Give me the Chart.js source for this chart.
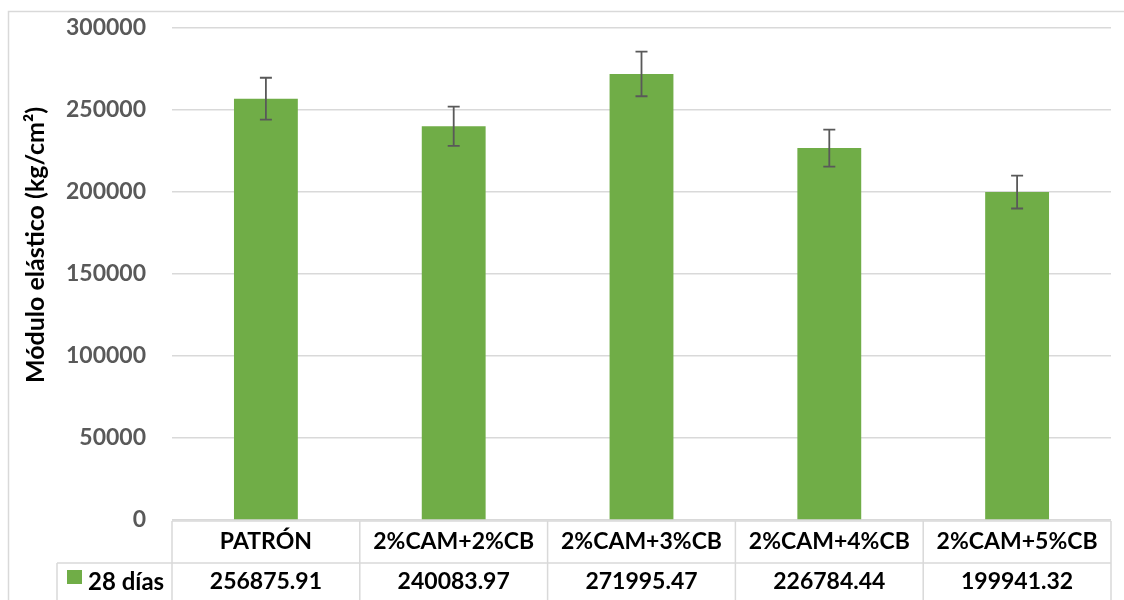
<!DOCTYPE html>
<html>
<head>
<meta charset="utf-8">
<script src="https://cdn.jsdelivr.net/npm/chart.js@4"></script>
<style>
  html, body { margin: 0; padding: 0; background: #ffffff; }
  #wrap { width: 1124px; height: 600px; }
</style>
</head>
<body>
<div id="wrap"><canvas id="chart" width="1124" height="600"></canvas></div>
<script>
// Chart data
const categories = ["PATRÓN", "2%CAM+2%CB", "2%CAM+3%CB", "2%CAM+4%CB", "2%CAM+5%CB"];
const values = [256875.91, 240083.97, 271995.47, 226784.44, 199941.32];
const errors = [12800, 12000, 13600, 11300, 10000];
const seriesName = "28 días";
const axisTitle = "Módulo elástico (kg/cm²)";
const yMin = 0;
const yMax = 300000;
const yStep = 50000;

/* ============================
   STYLE
============================ */
const FONT = "Lato";
const GREEN = "#70AD47";
const LINE = "#d9d9d9";
const ERR = "#595959";

/* ============================
   PLUGINS
============================ */

// Outer chart frame (Excel chart border)
const framePlugin = {
  id: "frame",
  beforeDraw(chart) {
    const ctx = chart.ctx;
    ctx.save();
    ctx.strokeStyle = LINE;
    ctx.lineWidth = 1.5;
    ctx.strokeRect(8.5, 11.5, 1400, 800);
    ctx.restore();
  },
};

// Error bars on top of each bar
const errorBarPlugin = {
  id: "errorBars",
  afterDatasetsDraw(chart) {
    const ctx = chart.ctx;
    const y = chart.scales.y;
    const meta = chart.getDatasetMeta(0);
    ctx.save();
    ctx.strokeStyle = ERR;
    ctx.lineWidth = 1.8;
    meta.data.forEach((bar, i) => {
      const top = y.getPixelForValue(values[i] + errors[i]);
      const bot = y.getPixelForValue(values[i] - errors[i]);
      ctx.beginPath();
      ctx.moveTo(bar.x, top);
      ctx.lineTo(bar.x, bot);
      ctx.moveTo(bar.x - 6, top);
      ctx.lineTo(bar.x + 6, top);
      ctx.moveTo(bar.x - 6, bot);
      ctx.lineTo(bar.x + 6, bot);
      ctx.stroke();
    });
    ctx.restore();
  },
};

// Data table under the plot + y axis title
const tablePlugin = {
  id: "dataTable",
  afterDraw(chart) {
    const ctx = chart.ctx;
    const area = chart.chartArea;
    const x = chart.scales.x;
    const n = categories.length;
    const colW = (area.right - area.left) / n;
    const top = area.bottom + 1;
    const mid = top + 42;
    const legendLeft = 57;

    ctx.save();
    ctx.strokeStyle = LINE;
    ctx.lineWidth = 1.5;
    ctx.beginPath();
    ctx.moveTo(area.left, top);
    ctx.lineTo(area.right, top);
    ctx.moveTo(legendLeft, mid);
    ctx.lineTo(area.right, mid);
    ctx.moveTo(legendLeft, mid);
    ctx.lineTo(legendLeft, 610);
    for (let i = 0; i <= n; i++) {
      const bx = area.left + i * colW;
      ctx.moveTo(bx, top);
      ctx.lineTo(bx, 610);
    }
    ctx.stroke();

    ctx.fillStyle = "#000000";
    ctx.font = `bold 23px ${FONT}`;
    ctx.textAlign = "center";
    ctx.textBaseline = "middle";
    categories.forEach((c, i) => {
      const cx = x.getPixelForValue(i);
      ctx.fillText(c, cx, top + 21);
      ctx.fillText(values[i].toFixed(2), cx, mid + 19);
    });

    // legend key
    ctx.fillStyle = GREEN;
    ctx.fillRect(67, mid + 7, 15, 14);
    ctx.fillStyle = "#000000";
    ctx.textAlign = "left";
    ctx.font = `bold 24px ${FONT}`;
    ctx.fillText(seriesName, 88, mid + 19);

    // y axis title
    ctx.font = `bold 25px ${FONT}`;
    ctx.translate(36, 245);
    ctx.rotate(-Math.PI / 2);
    ctx.textAlign = "center";
    ctx.fillText(axisTitle, 0, 0);
    ctx.restore();
  },
};

/* ============================
   CHART
============================ */
new Chart(document.getElementById("chart"), {
  type: "bar",
  data: {
    labels: categories,
    datasets: [
      {
        label: seriesName,
        data: values,
        backgroundColor: GREEN,
        categoryPercentage: 1,
        barPercentage: 0.34,
      },
    ],
  },
  options: {
    responsive: false,
    animation: false,
    layout: { padding: { top: 28, right: 13, bottom: 80, left: 0 } },
    plugins: { legend: { display: false }, tooltip: { enabled: false } },
    scales: {
      x: { display: false },
      y: {
        min: yMin,
        max: yMax,
        afterFit: (s) => {
          s.width = 172;
          s.paddingTop = 0;
          s.paddingBottom = 0;
        },
        border: { display: false },
        grid: { color: LINE, lineWidth: 1.5, drawTicks: false },
        ticks: {
          stepSize: yStep,
          padding: 26,
          color: "#595959",
          font: { family: FONT, weight: "bold", size: 23 },
          callback: (v) => String(v),
        },
      },
    },
  },
  plugins: [framePlugin, errorBarPlugin, tablePlugin],
});
</script>
</body>
</html>
